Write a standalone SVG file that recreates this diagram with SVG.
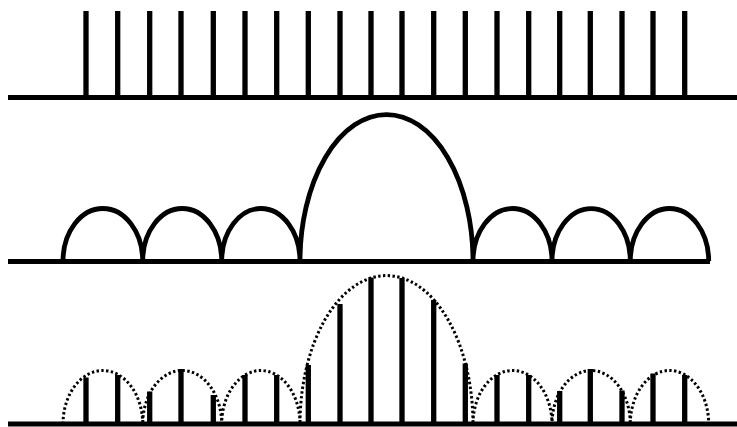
<svg xmlns="http://www.w3.org/2000/svg" width="737" height="427" viewBox="0 0 737 427">
<style>
.base{stroke:#000;stroke-width:5;fill:none}
.bar{stroke:#000;stroke-width:5.3;fill:none}
.lobe{stroke:#000;stroke-width:4.8;fill:none}
.dot{stroke:#000;stroke-width:3;fill:none;stroke-dasharray:2.4 2.4}
</style>
<rect width="737" height="427" fill="#fff"/>
<g id="row-top">
<line class="base" x1="8" y1="97.5" x2="737" y2="97.5"/>
<path class="bar" d="M86,11V97M117.7,11V97M149.7,11V97M181,11V97M213.3,11V97M245,11V97M276.7,11V97M308.3,11V97M340,11V97M371,11V97M402,11V97M433.7,11V97M465.3,11V97M497,11V97M528.7,11V97M559.7,11V97M590.3,11V97M622,11V97M653,11V97M684.7,11V97"/>
</g>
<g id="row-middle">
<line class="base" x1="8" y1="261.5" x2="710" y2="261.5"/>
<path class="lobe" d="M63,261A39.85,52.5 0 0 1 142.7,261A39.5,52.5 0 0 1 221.7,261A39.15,52.5 0 0 1 300,261A86.5,146.5 0 0 1 473,261A39.5,52.5 0 0 1 552,261A39.15,52.5 0 0 1 630.3,261A39.2,52.5 0 0 1 708.7,261"/>
</g>
<g id="row-bottom">
<line class="base" x1="8" y1="424" x2="737" y2="424"/>
<path class="dot" d="M63,424A39.85,53.5 0 0 1 142.7,424A39.5,53.5 0 0 1 221.7,424A39.15,53.5 0 0 1 300,424A86.5,148.5 0 0 1 473,424A39.5,53.5 0 0 1 552,424A39.15,53.5 0 0 1 630.3,424A39.2,53.5 0 0 1 708.7,424"/>
<path class="bar" d="M86,377.5V424M117.7,375V424M149.7,391.5V424M181,369V424M213.3,395V424M245,375V424M276.7,375V424M308.3,365V424M340,304V424M371,277.5V424M402,278V424M433.7,300V424M465.3,363.5V424M497,375V424M528.7,375V424M559.7,391V424M590.3,369V424M622,390.5V424M653,373.5V424M684.7,375V424"/>
</g>
</svg>
